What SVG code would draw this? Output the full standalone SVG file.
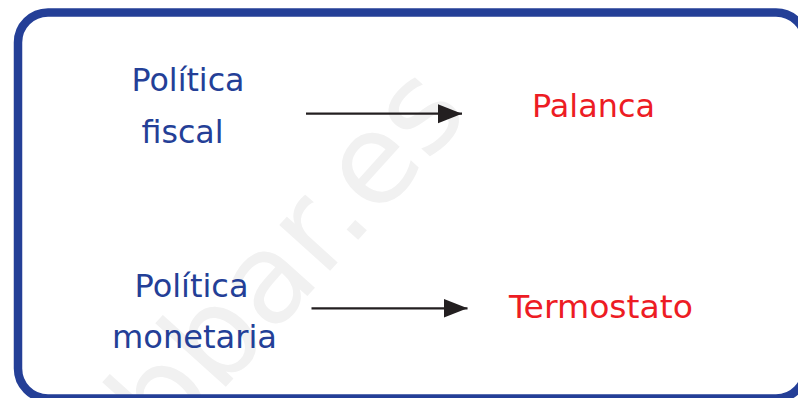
<svg xmlns="http://www.w3.org/2000/svg" width="798" height="398" viewBox="0 0 798 398">
<style>
.lbl{font-family:"DejaVu Sans",Verdana,sans-serif;font-size:32px;text-anchor:middle}
.blue{fill:#243f97}
.red{fill:#ed1c24}
.wm{font-family:"DejaVu Sans",Verdana,sans-serif;font-size:125px;fill:#f1f1f1}
.conn{stroke:#231f20;stroke-width:2.2;fill:none}
</style>
<defs>
<marker id="ah" markerUnits="userSpaceOnUse" markerWidth="26" markerHeight="22" refX="24" refY="10" orient="auto">
<path d="M0,0.5 L24,10 L0,19.5 Z" fill="#231f20"/>
</marker>
</defs>
<rect width="798" height="398" fill="#ffffff"/>
<text class="wm" transform="translate(114,511) rotate(-48)">obbar.es</text>
<rect id="frame" x="18" y="12.5" width="788" height="386" rx="30" ry="30" fill="none" stroke="#243f97" stroke-width="8.5"/>
<g id="n-fiscal"><text class="lbl blue" x="188" y="90.7" textLength="113" lengthAdjust="spacingAndGlyphs">Política</text><text class="lbl blue" x="182.5" y="142.7" textLength="82" lengthAdjust="spacingAndGlyphs">fiscal</text></g>
<g id="n-palanca"><text class="lbl red" x="593.5" y="117.3" textLength="123" lengthAdjust="spacingAndGlyphs">Palanca</text></g>
<g id="n-monetaria"><text class="lbl blue" x="191.5" y="297.3" textLength="114" lengthAdjust="spacingAndGlyphs">Política</text><text class="lbl blue" x="194.5" y="348.3" textLength="165" lengthAdjust="spacingAndGlyphs">monetaria</text></g>
<g id="n-termostato"><text class="lbl red" x="601" y="317.7" textLength="184" lengthAdjust="spacingAndGlyphs">Termostato</text></g>
<g id="connectors">
<line class="conn" x1="306" y1="113.7" x2="462" y2="113.7" marker-end="url(#ah)"/>
<line class="conn" x1="311.5" y1="308.3" x2="467.5" y2="308.3" marker-end="url(#ah)"/>
</g>
</svg>
